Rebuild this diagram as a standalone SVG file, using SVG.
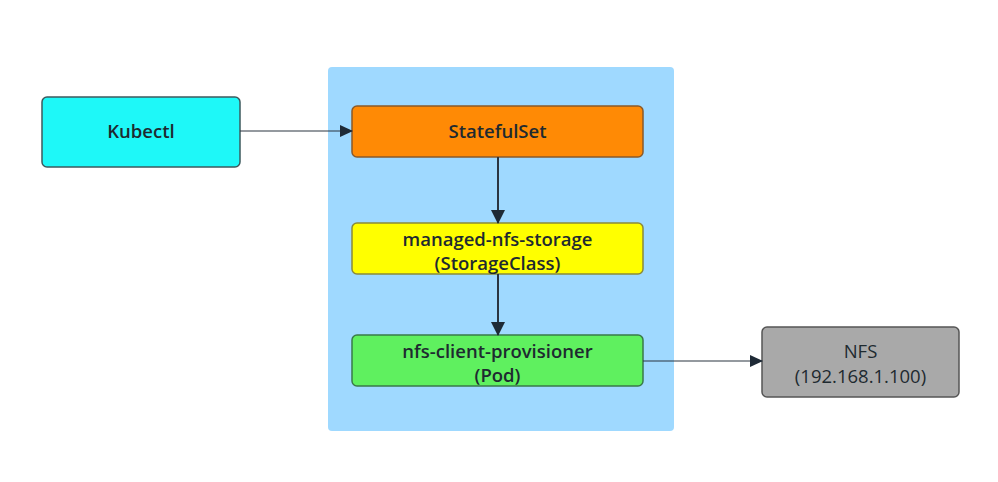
<svg xmlns="http://www.w3.org/2000/svg" width="998" height="482" viewBox="0 0 998 482">
<style>
.n{stroke:#3d5a5e;stroke-width:1.5}
.t{font-family:"Open Sans","Noto Sans",sans-serif;font-size:18.5px;font-weight:600;fill:#1e2a30;text-anchor:middle}
.c{stroke:#2a3440;fill:none}
</style>
<defs>
<marker id="a" markerWidth="13" markerHeight="12" refX="12" refY="6" orient="auto" markerUnits="userSpaceOnUse">
<path d="M0,0 L13,6 L0,12 z" fill="#1e2a36"/>
</marker>
<marker id="b" markerWidth="14" markerHeight="14" refX="13" refY="7" orient="auto" markerUnits="userSpaceOnUse">
<path d="M0,0 L14,7 L0,14 z" fill="#1e2a36"/>
</marker>
</defs>
<rect width="998" height="482" fill="#ffffff"/>
<g id="container"><rect x="328" y="67" width="346" height="364" rx="4" fill="#9fd9ff"/></g>
<g id="kubectl"><rect class="n" x="42" y="97" width="198" height="70" rx="5" fill="#1ef8f8"/><text class="t" x="141" y="138">Kubectl</text></g>
<g id="statefulset"><rect class="n" x="352" y="106" width="291" height="51" rx="5" fill="#ff8a05" style="stroke:#8a5a2a"/><text class="t" x="497.5" y="138">StatefulSet</text></g>
<g id="storageclass"><rect class="n" x="352" y="223" width="291" height="51" rx="5" fill="#ffff00" style="stroke:#8a8a3a"/><text class="t" x="497.5" y="246">managed-nfs-storage</text><text class="t" x="497.5" y="270">(StorageClass)</text></g>
<g id="provisioner"><rect class="n" x="352" y="335" width="291" height="51" rx="5" fill="#5ff05f" style="stroke:#3a7a4a"/><text class="t" x="497.5" y="358">nfs-client-provisioner</text><text class="t" x="497.5" y="382">(Pod)</text></g>
<g id="nfs"><rect class="n" x="762" y="327" width="197" height="70" rx="5" fill="#a9a9a9" style="stroke:#555"/><text class="t" x="860.5" y="358" style="font-weight:500">NFS</text><text class="t" x="860.5" y="383" style="font-weight:500">(192.168.1.100)</text></g>
<g id="connectors">
<line class="c" x1="240" y1="131" x2="352" y2="131" stroke-width="1.2" marker-end="url(#a)"/>
<line class="c" x1="498" y1="157" x2="498" y2="223" stroke-width="2" marker-end="url(#b)"/>
<line class="c" x1="498" y1="274" x2="498" y2="335" stroke-width="2" marker-end="url(#b)"/>
<line class="c" x1="643" y1="361" x2="762" y2="361" stroke-width="1.2" marker-end="url(#a)"/>
</g>
</svg>
